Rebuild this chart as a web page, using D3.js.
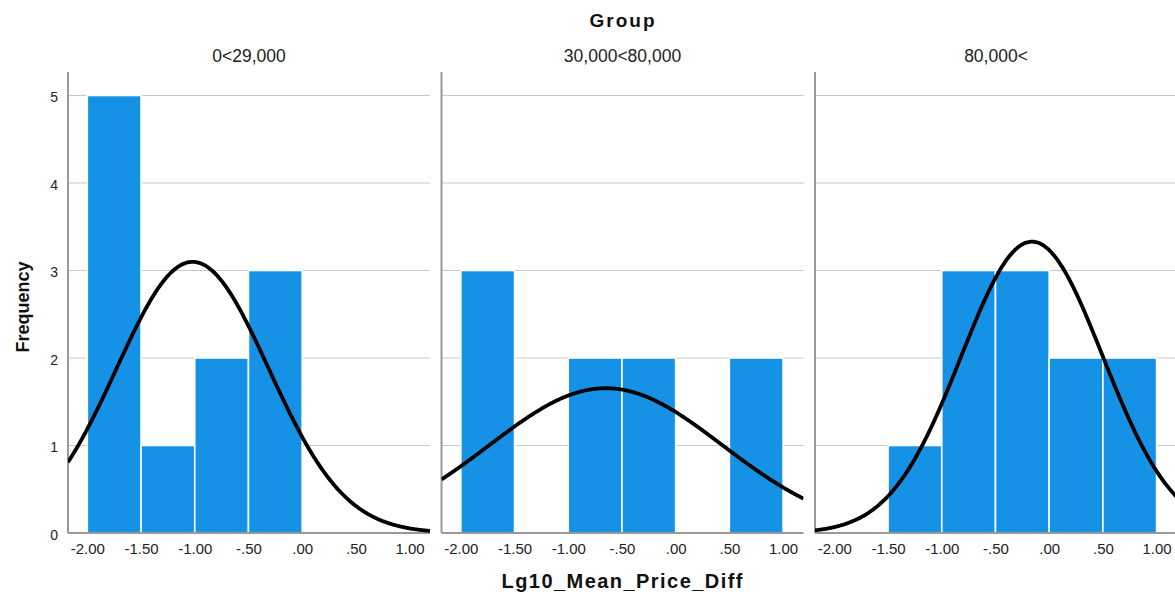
<!DOCTYPE html>
<html><head><meta charset="utf-8">
<script src="https://cdn.jsdelivr.net/npm/d3@7"></script>
<style>
html,body{margin:0;padding:0;background:#fff;}
svg text{font-family:"Liberation Sans",Arial,sans-serif;}
</style></head>
<body>
<svg id="chart" width="1175" height="597"></svg>
<script>
// ---- data ----
const groups = ["0<29,000", "30,000<80,000", "80,000<"];
const binStarts = [-2.0, -1.5, -1.0, -0.5, 0.0, 0.5];
const binWidth = 0.5;
const counts0 = [5, 1, 2, 3, 0, 0];
const counts1 = [3, 0, 2, 2, 0, 2];
const counts2 = [0, 1, 3, 3, 2, 2];
const counts = [counts0, counts1, counts2];
const normMean = [-1.02, -0.65, -0.16];
const normSD = [0.708, 1.085, 0.659];
const xTicks = [-2.0, -1.5, -1.0, -0.5, 0.0, 0.5, 1.0];
const xTickLabels = ["-2.00", "-1.50", "-1.00", "-.50", ".00", ".50", "1.00"];
const yTicks = [0, 1, 2, 3, 4, 5];

// ---- layout ----
const svg = d3.select("#chart");
const panelLeft0 = 68, panelW = 362, panelStep = 373.5;
const yTop = 72, yBase = 533;
const y = d3.scaleLinear().domain([0, 5]).range([yBase, 95.5]);
const xDomain = [-2.18, 1.19];
const barColor = "#1591e6";

groups.forEach((g, i) => {
  const left = panelLeft0 + i * panelStep;
  const x = d3.scaleLinear().domain(xDomain).range([left, left + panelW]);
  const p = svg.append("g");
  const cid = "clip" + i;
  svg.append("defs").append("clipPath").attr("id", cid)
    .append("rect").attr("x", left).attr("y", yTop).attr("width", panelW).attr("height", yBase - yTop + 2);

  // gridlines
  p.selectAll("line.grid").data(yTicks.filter(t => t > 0)).join("line")
    .attr("x1", left).attr("x2", left + panelW)
    .attr("y1", d => y(d)).attr("y2", d => y(d))
    .attr("stroke", "#c8c8c8").attr("stroke-width", 1.2);

  // bars
  p.selectAll("rect.bar").data(binStarts.map((b, k) => ({b, c: counts[i][k]})).filter(d => d.c > 0))
    .join("rect")
    .attr("x", d => x(d.b)).attr("width", d => x(d.b + binWidth) - x(d.b))
    .attr("y", d => y(d.c)).attr("height", d => y(0) - y(d.c))
    .attr("fill", barColor).attr("stroke", "#fff").attr("stroke-width", 1.6);

  // axes lines
  p.append("line").attr("x1", left).attr("x2", left).attr("y1", yTop).attr("y2", yBase)
    .attr("stroke", "#999").attr("stroke-width", 2);
  p.append("line").attr("x1", left).attr("x2", left + panelW).attr("y1", yBase).attr("y2", yBase)
    .attr("stroke", "#999").attr("stroke-width", 2);

  // normal curve
  const n = d3.sum(counts[i]);
  const mu = normMean[i], sd = normSD[i];
  const pts = d3.range(0, 301).map(k => {
    const xv = xDomain[0] + (xDomain[1] - xDomain[0]) * k / 300;
    const yv = n * binWidth / (sd * Math.sqrt(2 * Math.PI)) * Math.exp(-0.5 * ((xv - mu) / sd) ** 2);
    return [xv, yv];
  });
  p.append("path").datum(pts)
    .attr("d", d3.line().x(d => x(d[0])).y(d => y(d[1])).curve(d3.curveBasis))
    .attr("fill", "none").attr("stroke", "#000").attr("stroke-width", 3.8)
    .attr("clip-path", `url(#${cid})`);

  // x tick labels
  const xa = d3.axisBottom(x).tickValues(xTicks).tickFormat((d, k) => xTickLabels[k]).tickSize(0).tickPadding(10);
  const ga = p.append("g").attr("transform", `translate(0,${yBase})`).call(xa);
  ga.select(".domain").remove();
  ga.selectAll("text").attr("font-size", 15).attr("fill", "#222").attr("font-family", "Liberation Sans, Arial, sans-serif");

  // panel title
  p.append("text").attr("x", left + panelW / 2).attr("y", 62).attr("text-anchor", "middle")
    .attr("font-size", 17.5).attr("fill", "#222").text(g);
});

// y tick labels (left panel only)
const ya = d3.axisLeft(y).tickValues(yTicks).tickFormat(d3.format("d")).tickSize(0).tickPadding(10);
const gy = svg.append("g").attr("transform", `translate(${panelLeft0},2)`).call(ya);
gy.select(".domain").remove();
gy.selectAll("text").attr("font-size", 14).attr("fill", "#222").attr("font-family", "Liberation Sans, Arial, sans-serif");

// titles
svg.append("text").attr("x", 622).attr("y", 27).attr("text-anchor", "middle")
  .attr("font-size", 19).attr("font-weight", "bold").attr("fill", "#111")
  .attr("textLength", 65).attr("lengthAdjust", "spacing").text("Group");
svg.append("text").attr("x", 622).attr("y", 588).attr("text-anchor", "middle")
  .attr("font-size", 20).attr("font-weight", "bold").attr("fill", "#111")
  .attr("textLength", 241).attr("lengthAdjust", "spacing").text("Lg10_Mean_Price_Diff");
svg.append("text").attr("transform", "translate(29,307) rotate(-90)").attr("text-anchor", "middle")
  .attr("font-size", 18).attr("font-weight", "bold").attr("fill", "#111").text("Frequency");
</script>
</body></html>
